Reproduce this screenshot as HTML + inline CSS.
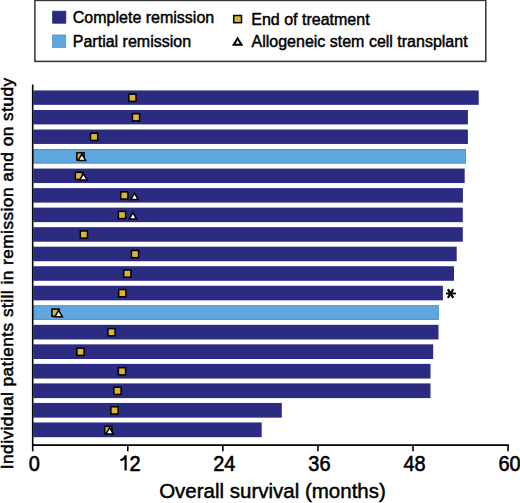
<!DOCTYPE html>
<html><head><meta charset="utf-8"><style>
html,body{margin:0;padding:0;background:#fff;}
svg{display:block;font-family:"Liberation Sans",sans-serif;}
text{stroke:#000;stroke-width:0.45px;}
.tk{stroke-width:0.6px;}
.yl{stroke-width:0.55px;}
</style></head><body>
<svg width="520" height="503" viewBox="0 0 520 503">
<rect x="0" y="0" width="520" height="503" fill="#fff"/>
<rect x="34.9" y="0.4" width="450.9" height="61" fill="none" stroke="#333" stroke-width="1.5"/>
<rect x="52.7" y="11.2" width="13.1" height="12.0" fill="#2c2b82" stroke="#242370" stroke-width="0.8"/>
<rect x="52.6" y="35.0" width="13.1" height="12.4" fill="#5fa8de" stroke="#5092c8" stroke-width="0.8"/>
<text x="72.8" y="22.8" font-size="16">Complete remission</text>
<text x="72.8" y="46.8" font-size="16">Partial remission</text>
<rect x="233.7" y="15.5" width="7.8" height="7.2" fill="#dbb433" stroke="#000" stroke-width="1.5"/>
<polygon points="237.6,38.5 241.5,44.7 233.7,44.7" fill="#fff" stroke="#000" stroke-width="2.0"/>
<text x="251.3" y="24.8" font-size="16">End of treatment</text>
<text x="251.5" y="46.8" font-size="16">Allogeneic stem cell transplant</text>
<rect x="33.4" y="90.45" width="445.30" height="14.40" fill="#2c2b82"/>
<rect x="128.80" y="94.15" width="7.20" height="7.20" fill="#dbb433" stroke="#000" stroke-width="1.5"/>
<rect x="33.4" y="109.98" width="434.50" height="14.42" fill="#2c2b82"/>
<rect x="132.40" y="113.69" width="7.20" height="7.20" fill="#dbb433" stroke="#000" stroke-width="1.5"/>
<rect x="33.4" y="129.51" width="434.50" height="14.44" fill="#2c2b82"/>
<rect x="90.50" y="133.23" width="7.20" height="7.20" fill="#dbb433" stroke="#000" stroke-width="1.5"/>
<rect x="33.4" y="149.04" width="432.60" height="14.46" fill="#5fa8de"/>
<rect x="33.9" y="149.59" width="431.60" height="13.36" fill="none" stroke="#5894c8" stroke-width="1.1"/>
<rect x="76.85" y="152.77" width="7.20" height="7.20" fill="#dbb433" stroke="#000" stroke-width="1.5"/>
<polygon points="81.90,154.02 85.65,160.47 78.15,160.47" fill="#fff" stroke="#000" stroke-width="1.5" stroke-linejoin="miter"/>
<rect x="33.4" y="168.57" width="431.30" height="14.48" fill="#2c2b82"/>
<rect x="75.30" y="172.31" width="7.20" height="7.20" fill="#dbb433" stroke="#000" stroke-width="1.5"/>
<polygon points="83.40,173.56 87.15,180.01 79.65,180.01" fill="#fff" stroke="#000" stroke-width="1.5" stroke-linejoin="miter"/>
<rect x="33.4" y="188.10" width="429.50" height="14.50" fill="#2c2b82"/>
<rect x="120.70" y="191.85" width="7.20" height="7.20" fill="#dbb433" stroke="#000" stroke-width="1.5"/>
<polygon points="134.50,193.10 138.25,199.55 130.75,199.55" fill="#fff" stroke="#000" stroke-width="1.5" stroke-linejoin="miter"/>
<rect x="33.4" y="207.63" width="429.40" height="14.52" fill="#2c2b82"/>
<rect x="118.40" y="211.39" width="7.20" height="7.20" fill="#dbb433" stroke="#000" stroke-width="1.5"/>
<polygon points="132.90,212.64 136.65,219.09 129.15,219.09" fill="#fff" stroke="#000" stroke-width="1.5" stroke-linejoin="miter"/>
<rect x="33.4" y="227.16" width="429.40" height="14.54" fill="#2c2b82"/>
<rect x="80.25" y="230.93" width="7.20" height="7.20" fill="#dbb433" stroke="#000" stroke-width="1.5"/>
<rect x="33.4" y="246.69" width="423.30" height="14.56" fill="#2c2b82"/>
<rect x="131.40" y="250.47" width="7.20" height="7.20" fill="#dbb433" stroke="#000" stroke-width="1.5"/>
<rect x="33.4" y="266.22" width="420.60" height="14.58" fill="#2c2b82"/>
<rect x="123.70" y="270.01" width="7.20" height="7.20" fill="#dbb433" stroke="#000" stroke-width="1.5"/>
<rect x="33.4" y="285.75" width="409.50" height="14.60" fill="#2c2b82"/>
<rect x="118.70" y="289.55" width="7.20" height="7.20" fill="#dbb433" stroke="#000" stroke-width="1.5"/>
<rect x="33.4" y="305.28" width="405.30" height="14.62" fill="#5fa8de"/>
<rect x="33.9" y="305.83" width="404.30" height="13.52" fill="none" stroke="#5894c8" stroke-width="1.1"/>
<rect x="51.90" y="309.09" width="7.20" height="7.20" fill="#dbb433" stroke="#000" stroke-width="1.5"/>
<polygon points="58.65,310.34 62.40,316.79 54.90,316.79" fill="#fff" stroke="#000" stroke-width="1.5" stroke-linejoin="miter"/>
<rect x="33.4" y="324.81" width="405.10" height="14.64" fill="#2c2b82"/>
<rect x="107.90" y="328.63" width="7.20" height="7.20" fill="#dbb433" stroke="#000" stroke-width="1.5"/>
<rect x="33.4" y="344.34" width="399.80" height="14.66" fill="#2c2b82"/>
<rect x="76.90" y="348.17" width="7.20" height="7.20" fill="#dbb433" stroke="#000" stroke-width="1.5"/>
<rect x="33.4" y="363.87" width="397.10" height="14.68" fill="#2c2b82"/>
<rect x="118.40" y="367.71" width="7.20" height="7.20" fill="#dbb433" stroke="#000" stroke-width="1.5"/>
<rect x="33.4" y="383.40" width="397.10" height="14.70" fill="#2c2b82"/>
<rect x="113.90" y="387.25" width="7.20" height="7.20" fill="#dbb433" stroke="#000" stroke-width="1.5"/>
<rect x="33.4" y="402.93" width="248.40" height="14.72" fill="#2c2b82"/>
<rect x="110.90" y="406.79" width="7.20" height="7.20" fill="#dbb433" stroke="#000" stroke-width="1.5"/>
<rect x="33.4" y="422.46" width="228.30" height="14.74" fill="#2c2b82"/>
<rect x="104.70" y="426.33" width="7.20" height="7.20" fill="#dbb433" stroke="#000" stroke-width="1.5"/>
<polygon points="109.60,427.58 113.35,434.03 105.85,434.03" fill="#fff" stroke="#000" stroke-width="1.5" stroke-linejoin="miter"/>
<line x1="32.7" y1="84.5" x2="32.7" y2="446" stroke="#000" stroke-width="1.6"/>
<line x1="32" y1="445.1" x2="508.8" y2="445.1" stroke="#000" stroke-width="1.7"/>
<line x1="32.70" y1="445" x2="32.70" y2="451.3" stroke="#000" stroke-width="1.6"/>
<text x="28.65" y="470.5" font-size="21.6" class="tk" textLength="11.09" lengthAdjust="spacingAndGlyphs">0</text>
<line x1="127.78" y1="445" x2="127.78" y2="451.3" stroke="#000" stroke-width="1.6"/>
<text x="129.6" y="470.5" font-size="21.6" class="tk" textLength="11.1" lengthAdjust="spacingAndGlyphs">2</text>
<path d="M125.6,455.3 L125.6,470.4 M125.6,456.1 C124.6,458.4 122.6,459.7 120.4,460.2" fill="none" stroke="#000" stroke-width="2.2"/>
<line x1="222.85" y1="445" x2="222.85" y2="451.3" stroke="#000" stroke-width="1.6"/>
<text x="213.26" y="470.5" font-size="21.6" class="tk" textLength="22.18" lengthAdjust="spacingAndGlyphs">24</text>
<line x1="317.93" y1="445" x2="317.93" y2="451.3" stroke="#000" stroke-width="1.6"/>
<text x="308.34" y="470.5" font-size="21.6" class="tk" textLength="22.18" lengthAdjust="spacingAndGlyphs">36</text>
<line x1="413.00" y1="445" x2="413.00" y2="451.3" stroke="#000" stroke-width="1.6"/>
<text x="403.41" y="470.5" font-size="21.6" class="tk" textLength="22.18" lengthAdjust="spacingAndGlyphs">48</text>
<line x1="508.08" y1="445" x2="508.08" y2="451.3" stroke="#000" stroke-width="1.6"/>
<text x="498.49" y="470.5" font-size="21.6" class="tk" textLength="22.18" lengthAdjust="spacingAndGlyphs">60</text>
<g stroke="#000" stroke-width="2.2" stroke-linecap="round"><line x1="446.9" y1="293.5" x2="455" y2="293.5"/><line x1="448.3" y1="289.9" x2="452.8" y2="297.1"/><line x1="452.8" y1="289.9" x2="448.3" y2="297.1"/></g>
<text x="272.5" y="498.4" text-anchor="middle" font-size="20.5">Overall survival (months)</text>
<text transform="translate(13.1,273.3) rotate(-90)" text-anchor="middle" font-size="17.3" letter-spacing="0.45" class="yl">Individual patients still in remission and on study</text>
</svg>
</body></html>
